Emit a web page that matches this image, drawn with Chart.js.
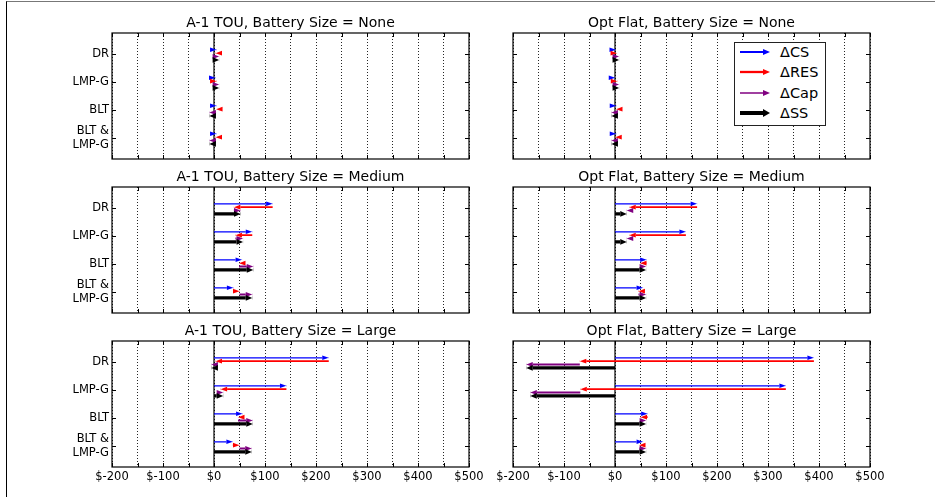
<!DOCTYPE html>
<html>
<head>
<meta charset="utf-8">
<script src="https://cdn.jsdelivr.net/npm/chart.js@4.4.1/dist/chart.umd.min.js"></script>
<style>
html,body{margin:0;padding:0;background:#fff;width:935px;height:497px;overflow:hidden;position:relative;font-family:"DejaVu Sans",sans-serif;}
#frame{position:absolute;left:6px;top:1px;width:1000px;height:600px;border-left:1.5px solid #000;border-top:1.5px solid #777;}
canvas{position:absolute;}
#legend{position:absolute;left:734px;top:42px;width:92px;height:84px;border:1px solid #222;background:#fff;box-sizing:border-box;}
.lrow{position:absolute;left:0;width:90px;height:20px;}
.lrow svg{position:absolute;left:0;top:0;}
.lrow span{position:absolute;left:45px;top:0;line-height:20px;font-size:14.5px;color:#000;white-space:nowrap;}
</style>
</head>
<body>
<div id="frame"></div>
<script>
// ---------- data ----------
const categories = ['DR', 'LMP-G', 'BLT', 'BLT & LMP-G'];
const seriesNames = ['\u0394CS', '\u0394RES', '\u0394Cap', '\u0394SS'];
const xLabelValues = [-200, -100, 0, 100, 200, 300, 400, 500];
const xTickLabels = ['$-200', '$-100', '$0', '$100', '$200', '$300', '$400', '$500'];
const panelTitles = [
  'A-1 TOU, Battery Size = None', 'Opt Flat, Battery Size = None',
  'A-1 TOU, Battery Size = Medium', 'Opt Flat, Battery Size = Medium',
  'A-1 TOU, Battery Size = Large', 'Opt Flat, Battery Size = Large'
];

const touNoneCS  = [5, 3, 5, 5];
const touNoneRES = [-2, 2, -1, -2];
const touNoneCap = [7, 5, -13, -12];
const touNoneSS  = [10, 10, -9, -9];

const flatNoneCS  = [2, 0.5, 2.5, 2.5];
const flatNoneRES = [2, 4, -0.5, -2];
const flatNoneCap = [4, 3.5, -9, -7.5];
const flatNoneSS  = [8, 8, -7, -7];

const touMedCS  = [115, 75, 55, 38];
const touMedRES = [-76, -33, -6, 12];
const touMedCap = [13, 15, 28, 25];
const touMedSS  = [52, 57, 77, 75];

const flatMedCS  = [161, 139, 62, 55];
const flatMedRES = [-133, -111, -13, -9];
const flatMedCap = [-5, -5, 12, 15];
const flatMedSS  = [23, 23, 61, 61];

const touLargeCS  = [225, 142, 56, 37];
const touLargeRES = [-222, -129, -9, 13];
const touLargeCap = [-8, 5, 29, 24];
const touLargeSS  = [-5, 18, 76, 74];

const flatLargeCS  = [390, 335, 64, 55];
const flatLargeRES = [-459, -403, -14, -8];
const flatLargeCap = [-105, -98, 11, 14];
const flatLargeSS  = [-174, -166, 61, 61];

const panels = [
  [touNoneCS, touNoneRES, touNoneCap, touNoneSS],
  [flatNoneCS, flatNoneRES, flatNoneCap, flatNoneSS],
  [touMedCS, touMedRES, touMedCap, touMedSS],
  [flatMedCS, flatMedRES, flatMedCap, flatMedSS],
  [touLargeCS, touLargeRES, touLargeCap, touLargeSS],
  [flatLargeCS, flatLargeRES, flatLargeCap, flatLargeSS]
];

// ---------- styles ----------
const COLORS = ['#0000ff', '#ff0000', '#800080', '#000000'];
const SHAFT_W = [1.3, 1.6, 2, 3.2];
const HEAD_W = [4.6, 4.6, 4.8, 5.6];
const HEAD_L = 6.5;
const Y_OFF = [-0.15, -0.03, 0.09, 0.21];
const GEO = { colLeft: [112, 513], plotW: 357, rowTop: [33, 187, 341], plotH: 126,
              titleH: 24, xAxisH: 22, yAxisW: [112, 40], padRight: 22 };

Chart.defaults.font.family = '"DejaVu Sans", sans-serif';
Chart.defaults.color = '#000';

function splitLabel(s) {
  const i = s.indexOf('& ');
  return i >= 0 ? [s.slice(0, i + 1), s.slice(i + 2)] : s;
}

function arrowsOf(meta) {
  const out = [];
  for (let j = 0; j + 1 < meta.data.length; j += 3) {
    const p0 = meta.data[j], p1 = meta.data[j + 1];
    if (!p0 || !p1 || p0.skip || p1.skip) continue;
    const dx = p1.x - p0.x;
    if (Math.abs(dx) < 1e-6) continue;
    out.push({ x: p1.x, y: p1.y, dir: dx > 0 ? 1 : -1 });
  }
  return out;
}

const arrowPlugin = {
  id: 'arrowHeads',
  beforeDatasetDraw(chart, args) {
    const ctx = chart.ctx;
    const ds = chart.data.datasets[args.index];
    ctx.save();
    ctx.beginPath();
    ctx.rect(0, 0, chart.width, chart.height);
    arrowsOf(args.meta).forEach(a => {
      const xb = a.x - a.dir * HEAD_L;
      ctx.rect(Math.min(a.x, xb), a.y - ds.headW, HEAD_L, ds.headW * 2);
    });
    ctx.clip('evenodd');
  },
  afterDatasetDraw(chart, args) {
    const ctx = chart.ctx;
    ctx.restore();
    const ds = chart.data.datasets[args.index];
    ctx.save();
    ctx.fillStyle = ds.borderColor;
    arrowsOf(args.meta).forEach(a => {
      const xb = a.x - a.dir * HEAD_L;
      ctx.beginPath();
      ctx.moveTo(a.x, a.y);
      ctx.lineTo(xb, a.y - ds.headW / 2);
      ctx.lineTo(xb, a.y + ds.headW / 2);
      ctx.closePath();
      ctx.fill();
    });
    ctx.restore();
  }
};

const framePlugin = {
  id: 'frameTicks',
  beforeDatasetsDraw(chart) {
    const { ctx, chartArea: ca, scales } = chart;
    const x0 = scales.x.getPixelForValue(0);
    ctx.save();
    ctx.strokeStyle = '#000';
    ctx.lineWidth = 1.2;
    ctx.beginPath();
    ctx.moveTo(x0, ca.top);
    ctx.lineTo(x0, ca.bottom);
    ctx.stroke();
    ctx.restore();
  },
  afterDatasetsDraw(chart) {
    const { ctx, chartArea: ca, scales } = chart;
    ctx.save();
    ctx.strokeStyle = '#000';
    ctx.lineWidth = 1;
    ctx.beginPath();
    scales.x.ticks.forEach(t => {
      const px = Math.round(scales.x.getPixelForValue(t.value)) + 0.5;
      ctx.moveTo(px, ca.top); ctx.lineTo(px, ca.top + 4);
      ctx.moveTo(px, ca.bottom); ctx.lineTo(px, ca.bottom - 4);
    });
    scales.y.ticks.forEach(t => {
      const py = Math.round(scales.y.getPixelForValue(t.value)) + 0.5;
      ctx.moveTo(ca.left, py); ctx.lineTo(ca.left + 4, py);
      ctx.moveTo(ca.right, py); ctx.lineTo(ca.right - 4, py);
    });
    ctx.stroke();
    ctx.lineWidth = 1.2;
    ctx.strokeRect(ca.left, ca.top, ca.right - ca.left, ca.bottom - ca.top);
    ctx.restore();
  }
};

panels.forEach((series, n) => {
  const row = Math.floor(n / 2), col = n % 2;
  const cv = document.createElement('canvas');
  const W = GEO.yAxisW[col] + GEO.plotW + GEO.padRight;
  const H = GEO.titleH + GEO.plotH + GEO.xAxisH;
  cv.width = W; cv.height = H;
  cv.style.left = (GEO.colLeft[col] - GEO.yAxisW[col]) + 'px';
  cv.style.top = (GEO.rowTop[row] - GEO.titleH) + 'px';
  cv.style.width = W + 'px'; cv.style.height = H + 'px';
  document.body.appendChild(cv);

  const [cs, res, cap, ss] = series;
  const datasets = series.map((vals, k) => {
    const pts = [];
    vals.forEach((v, i) => {
      let start, end;
      if (k === 0) { start = 0; end = cs[i]; }
      else if (k === 1) { start = cs[i]; end = cs[i] + res[i]; }
      else if (k === 2) { start = cs[i] + res[i]; end = cs[i] + res[i] + cap[i]; }
      else { start = 0; end = ss[i]; }
      const y = i + Y_OFF[k];
      pts.push({ x: start, y: y }, { x: end, y: y }, { x: null, y: null });
    });
    return {
      label: seriesNames[k], data: pts, showLine: true, spanGaps: false,
      borderColor: COLORS[k], backgroundColor: COLORS[k], borderWidth: SHAFT_W[k],
      borderCapStyle: 'butt', pointRadius: 0, pointHoverRadius: 0, pointHitRadius: 0,
      order: 4 - k, headW: HEAD_W[k]
    };
  });

  new Chart(cv, {
    type: 'scatter',
    data: { datasets },
    plugins: [arrowPlugin, framePlugin],
    options: {
      responsive: false, animation: false, events: [],
      layout: { padding: { left: 0, right: GEO.padRight, top: 0, bottom: 0 } },
      plugins: {
        legend: { display: false }, tooltip: { enabled: false },
        title: { display: true, text: panelTitles[n], fullSize: false,
                 font: { size: 14, weight: 'normal' }, color: '#000',
                 padding: { top: 6, bottom: 1.2 } }
      },
      scales: {
        x: {
          type: 'linear', position: 'bottom', min: -200, max: 500,
          ticks: {
            stepSize: 50, autoSkip: false, maxRotation: 0, minRotation: 0, padding: 3,
            display: row === 2, font: { size: 11.5 }, color: '#000',
            callback: v => { const i = xLabelValues.indexOf(v); return i >= 0 ? xTickLabels[i] : ''; }
          },
          grid: { color: 'rgba(0,0,0,0.85)', lineWidth: 1, drawTicks: false },
          border: { display: false, dash: [1, 2] },
          afterFit: s => { s.height = GEO.xAxisH; s.paddingLeft = 0; s.paddingRight = 0; }
        },
        y: {
          type: 'linear', position: 'left', min: -0.75, max: 3.75, reverse: true,
          afterBuildTicks: s => { s.ticks = categories.map((c, i) => ({ value: i })); },
          ticks: {
            display: col === 0, autoSkip: false, padding: 3, color: '#000',
            font: { size: 11.5, lineHeight: 1.3 },
            callback: v => splitLabel(categories[v] || '')
          },
          grid: { display: false, drawTicks: false },
          border: { display: false },
          afterFit: s => { s.width = GEO.yAxisW[col]; s.paddingTop = 0; s.paddingBottom = 0; }
        }
      }
    }
  });
});

// ---------- legend ----------
const legend = document.createElement('div');
legend.id = 'legend';
const LEG_LINE_W = [2, 2.3, 1.5, 4];
const LEG_HEAD_W = [6, 6, 6, 8];
seriesNames.forEach((name, k) => {
  const r = document.createElement('div');
  r.className = 'lrow';
  r.style.top = (8.8 + 20.5 * k - 10) + 'px';
  const hw = LEG_HEAD_W[k] / 2;
  r.innerHTML = '<svg width="40" height="20" xmlns="http://www.w3.org/2000/svg">' +
    '<line x1="5" y1="10" x2="28.5" y2="10" stroke="' + COLORS[k] + '" stroke-width="' + LEG_LINE_W[k] + '"/>' +
    '<polygon points="35,10 28,' + (10 - hw) + ' 28,' + (10 + hw) + '" fill="' + COLORS[k] + '"/></svg>' +
    '<span>' + name + '</span>';
  legend.appendChild(r);
});
document.body.appendChild(legend);
</script>
</body>
</html>
